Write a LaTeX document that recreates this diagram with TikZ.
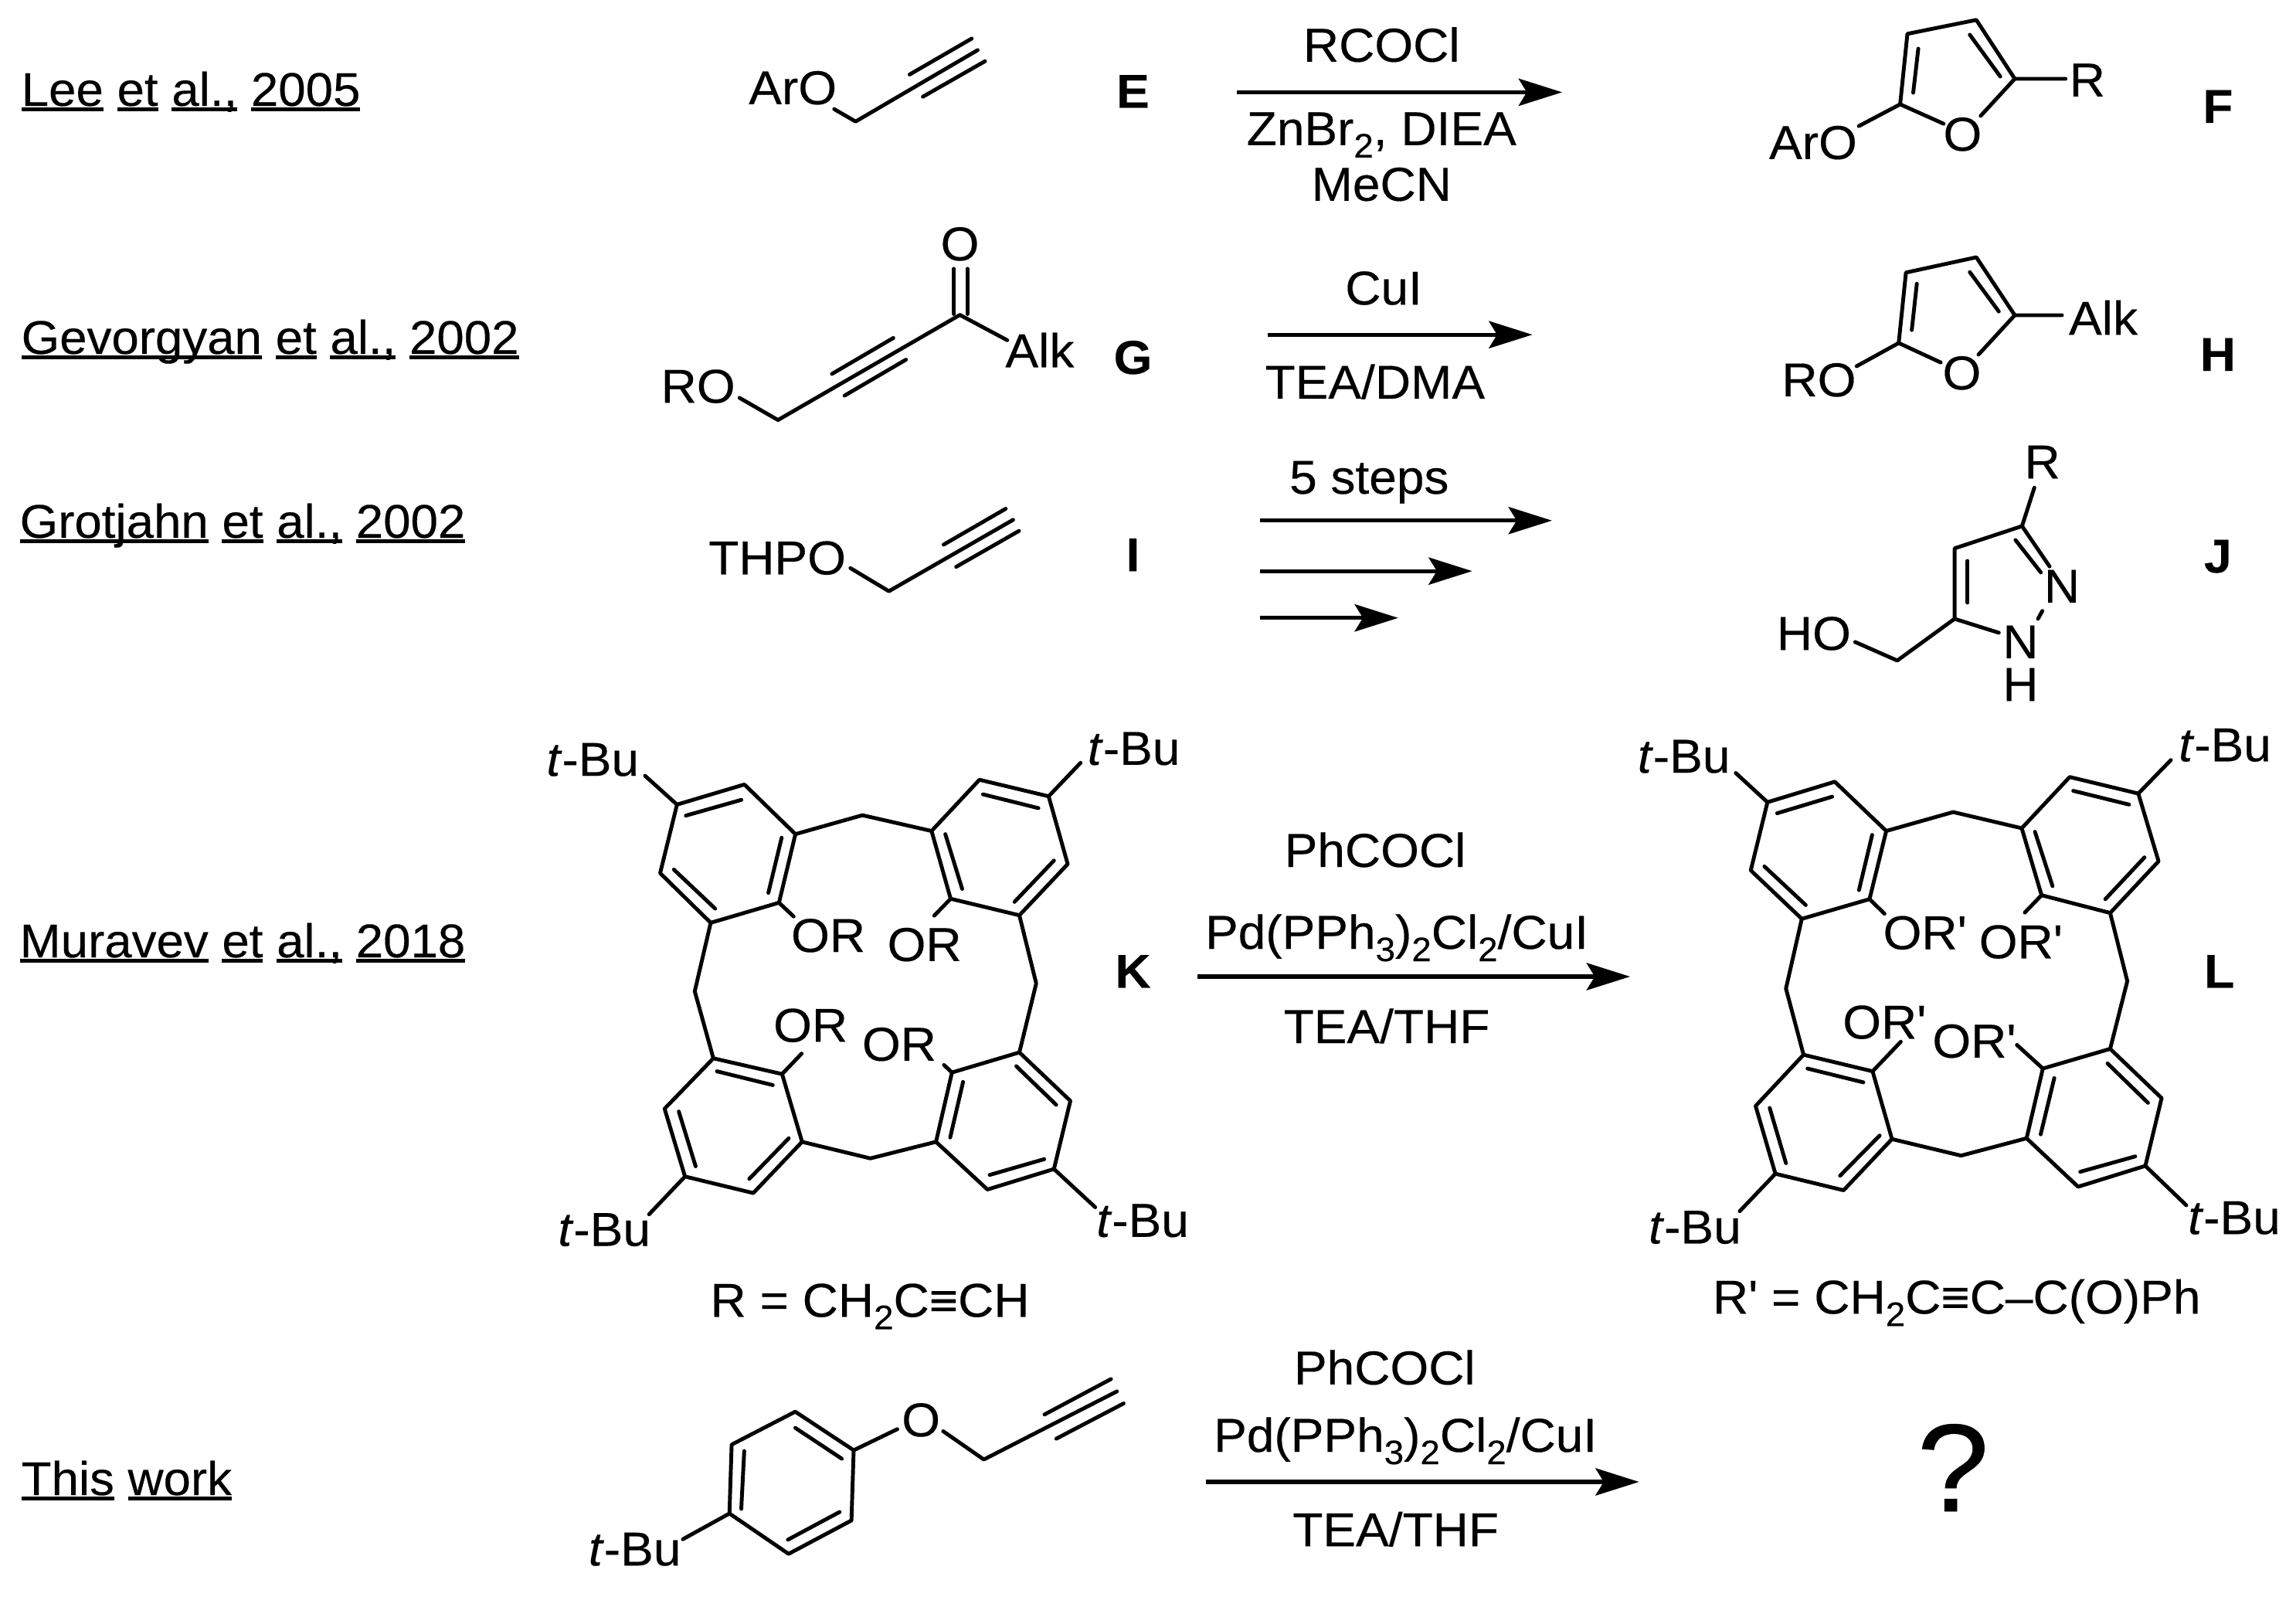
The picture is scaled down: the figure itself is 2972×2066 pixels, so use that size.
\documentclass[tikz,border=0pt]{standalone}
\usepackage{fontspec}
\setmainfont[Ligatures=TeXOff,FakeStretch=1.04,FakeBold=0.3]{Liberation Sans}
\usetikzlibrary{arrows.meta}
\newcommand{\refword}[1]{\setbox0\hbox{#1}\rlap{\rule[-0.11em]{\wd0}{0.07em}}\box0\relax}
\newcommand{\sbs}[1]{\raisebox{-0.26em}{\fontsize{12.5pt}{14pt}\selectfont #1}}
\newcommand{\tbu}{\textit{t}-Bu}
\tikzset{
  bond/.style={line width=1.4pt,line cap=round,line join=round,black},
  rxn/.style={line width=1.5pt,-{Stealth[length=16pt,width=10pt,inset=3pt]}},
  lbl/.style={anchor=base,inner sep=0pt,font=\fontsize{17.5pt}{21pt}\selectfont},
  cmpd/.style={anchor=base,inner sep=0pt,font=\fontsize{17.5pt}{21pt}\selectfont\bfseries},
  refl/.style={anchor=base west,inner sep=0pt,font=\fontsize{17.4pt}{21pt}\selectfont},
}
\begin{document}
\begin{tikzpicture}[x=0.01cm,y=-0.01cm]
\useasboundingbox (0,0) rectangle (2972,2066);
% reference labels
\node[refl] (lee) at (27,137) {\refword{Lee} \refword{et} \refword{al.,} \refword{2005}};
\node[refl] (gev) at (27,458) {\refword{Gevorgyan} \refword{et} \refword{al.,} \refword{2002}};
\node[refl] (gro) at (25,696) {\refword{Grotjahn} \refword{et} \refword{al.,} \refword{2002}};
\node[refl] (mur) at (25,1239) {\refword{Muravev} \refword{et} \refword{al.,} \refword{2018}};
\node[refl] (thi) at (27,1935) {\refword{This} \refword{work}};

% left column, top three rows
\begin{scope}[x=0.009567cm,y=-0.00574cm]
\node[lbl] (aro1) at (1072,235) {ArO};
\draw[bond] (1128,246)--(1157,274)--(1322,113);
\draw[bond] (1230,168)--(1314,87) (1248,218)--(1332,138);
\node[cmpd] (E) at (1532,243) {E};
\node[lbl] (ro1) at (944,908) {RO};
\draw[bond] (1000,897)--(1052,947)--(1298,710)--(1362,767);
\draw[bond] (1125,843)--(1208,762) (1142,892)--(1225,811);
\draw[bond] (1290,708)--(1290,606) (1308,708)--(1308,606);
\node[lbl] (oG) at (1298,587) {O};
\node[lbl] (alk1) at (1406,828) {Alk};
\node[cmpd] (G) at (1532,843) {G};
\node[lbl] (thpo) at (1051,1295) {THPO};
\draw[bond] (1150,1281)--(1202,1333)--(1370,1172);
\draw[bond] (1276,1228)--(1360,1147) (1293,1278)--(1378,1197);
\node[cmpd] (I) at (1532,1288) {I};
\end{scope}

% right part, top three rows
\begin{scope}[shift={(1500,0)},x=0.009388cm,y=-0.005995cm]
\coordinate (a1s) at (108,199); \coordinate (a1e) at (556,199);
\draw[rxn] (a1s)--(a1e);
\node[lbl] (rcocl) at (307,133) {RCOCl};
\node[lbl] (znbr) at (307,313) {ZnBr\sbs{2}, DIEA};
\node[lbl] (mecn) at (307,433) {MeCN};
\draw[bond] (1250,170)--(1180,170)--(1127,43)--(1032,73)--(1022,225)--(1082,267);
\draw[bond] (1180,170)--(1133,250) (1022,225)--(965,272);
\draw[bond] (1047,105)--(1040,200) (1118,75)--(1160,165);
\node[lbl] (rF) at (1280,208) {R};
\node[lbl] (oF) at (1108,325) {O};
\node[lbl] (aroF) at (902,343) {ArO};
\node[cmpd] (F) at (1460,265) {F};
\coordinate (a2s) at (150,722); \coordinate (a2e) at (515,722);
\draw[rxn] (a2s)--(a2e);
\node[lbl] (cui) at (310,657) {CuI};
\node[lbl] (teadma) at (298,860) {TEA/DMA};
\draw[bond] (1245,680)--(1180,680)--(1127,555)--(1030,588)--(1020,740)--(1078,782);
\draw[bond] (1180,680)--(1130,765) (1020,740)--(962,790);
\draw[bond] (1045,612)--(1038,712) (1118,587)--(1158,672);
\node[lbl] (alkH) at (1302,722) {Alk};
\node[lbl] (oH) at (1107,840) {O};
\node[lbl] (roH) at (910,855) {RO};
\node[cmpd] (H) at (1460,800) {H};
\node[lbl] (five) at (290,1065) {5 steps};
\coordinate (a3s) at (140,1123); \coordinate (a3e) at (542,1123);
\coordinate (a4s) at (140,1232); \coordinate (a4e) at (432,1232);
\coordinate (a5s) at (140,1333); \coordinate (a5e) at (330,1333);
\draw[rxn] (a3s)--(a3e);
\draw[rxn] (a4s)--(a4e);
\draw[rxn] (a5s)--(a5e);
\draw[bond] (1207,1052)--(1190,1135)--(1097,1183)--(1097,1335)--(1158,1365);
\draw[bond] (1190,1135)--(1228,1222) (1181,1165)--(1216,1235);
\draw[bond] (1115,1210)--(1115,1300);
\draw[bond] (1218,1318)--(1212,1335);
\draw[bond] (1097,1335)--(1018,1425)--(960,1385);
\node[lbl] (rJ) at (1218,1032) {R};
\node[lbl] (n2) at (1245,1300) {N};
\node[lbl] (n1) at (1188,1420) {N};
\node[lbl] (hJ) at (1188,1512) {H};
\node[lbl] (ho) at (903,1402) {HO};
\node[cmpd] (J) at (1460,1235) {J};
\end{scope}

% macrocycle K
\begin{scope}[shift={(680,920)},x=0.00574cm,y=-0.005102cm]
\draw[bond] (342,238)--(494,187)--(609,313)--(572,487)--(418,538)--(304,412)--cycle;
\draw[bond] (362,266)--(487,226) (578,322)--(548,462) (428,502)--(335,403);
\draw[bond] (342,238)--(270,165) (572,487)--(605,522);
\draw[bond] (609,313)--(760,265)--(916,305);
\draw[bond] (916,305)--(1024,175)--(1180,217)--(1223,389)--(1114,519)--(959,477)--cycle;
\draw[bond] (1032,212)--(1157,247) (1192,380)--(1103,485) (985,452)--(947,313);
\draw[bond] (1180,217)--(1252,132) (959,477)--(922,520);
\draw[bond] (418,538)--(382,712)--(424,882);
\draw[bond] (1114,519)--(1152,692)--(1114,867);
\draw[bond] (424,882)--(579,922)--(624,1094)--(514,1224)--(360,1182)--(314,1010)--cycle;
\draw[bond] (432,915)--(558,950) (594,1085)--(505,1188) (384,1156)--(346,1017);
\draw[bond] (579,922)--(623,870) (360,1182)--(279,1278);
\draw[bond] (624,1094)--(778,1136)--(926,1094);
\draw[bond] (926,1094)--(962,918)--(1114,867)--(1229,990)--(1192,1163)--(1042,1215)--cycle;
\draw[bond] (987,942)--(958,1083) (1107,902)--(1197,1000) (1170,1138)--(1047,1178);
\draw[bond] (962,918)--(944,899) (1192,1163)--(1285,1260);
\node[lbl] (k1) at (152,165) {\tbu};
\node[lbl] (k2) at (1372,137) {\tbu};
\node[lbl] (k3) at (178,1358) {\tbu};
\node[lbl] (k4) at (1392,1335) {\tbu};
\node[lbl] (k5) at (683,612) {OR};
\node[lbl] (k6) at (900,635) {OR};
\node[lbl] (k7) at (643,840) {OR};
\node[lbl] (k8) at (843,888) {OR};
\node[cmpd] (K) at (1370,703) {K};
\node[lbl] (kr) at (777,1538) {R = CH\sbs{2}C≡CH};
\end{scope}

% macrocycle L
\begin{scope}[shift={(2080,920)},x=0.005689cm,y=-0.005102cm]
\draw[bond] (365,232)--(518,180)--(635,305)--(597,478)--(443,528)--(327,405)--cycle;
\draw[bond] (387,260)--(512,218) (603,315)--(573,455) (452,493)--(358,395);
\draw[bond] (365,232)--(293,158) (597,478)--(631,515);
\draw[bond] (635,305)--(787,257)--(943,298);
\draw[bond] (943,298)--(1052,168)--(1208,210)--(1254,382)--(1144,513)--(988,468)--cycle;
\draw[bond] (1060,203)--(1187,238) (1222,372)--(1133,478) (1013,445)--(973,307);
\draw[bond] (1208,210)--(1282,125) (988,468)--(950,512);
\draw[bond] (443,528)--(407,705)--(447,873);
\draw[bond] (1144,513)--(1183,686)--(1144,858);
\draw[bond] (447,873)--(604,915)--(648,1087)--(538,1217)--(383,1175)--(338,1003)--cycle;
\draw[bond] (456,908)--(583,943) (620,1078)--(530,1180) (407,1148)--(370,1008);
\draw[bond] (604,915)--(668,840) (383,1175)--(302,1270);
\draw[bond] (648,1087)--(805,1129)--(954,1085);
\draw[bond] (954,1085)--(991,908)--(1144,858)--(1261,983)--(1224,1155)--(1071,1208)--cycle;
\draw[bond] (1017,932)--(986,1075) (1138,895)--(1230,995) (1201,1131)--(1076,1170);
\draw[bond] (991,908)--(932,848) (1224,1155)--(1317,1255);
\node[lbl] (l1) at (175,157) {\tbu};
\node[lbl] (l2) at (1405,128) {\tbu};
\node[lbl] (l3) at (200,1352) {\tbu};
\node[lbl] (l4) at (1426,1328) {\tbu};
\node[lbl] (l5) at (723,605) {OR'};
\node[lbl] (l6) at (941,628) {OR'};
\node[lbl] (l7) at (631,832) {OR'};
\node[lbl] (l8) at (835,880) {OR'};
\node[cmpd] (L) at (1392,703) {L};
\node[lbl] (lr) at (795,1530) {R' = CH\sbs{2}C≡C–C(O)Ph};
\end{scope}

% K to L reaction
\coordinate (a6s) at (1550,1264); \coordinate (a6e) at (2110,1264);
\draw[rxn] (a6s)--(a6e);
\node[lbl] (ph1) at (1780,1122) {PhCOCl};
\node[lbl] (pd1) at (1808,1228) {Pd(PPh\sbs{3})\sbs{2}Cl\sbs{2}/CuI};
\node[lbl] (tea1) at (1795,1350) {TEA/THF};

% this work
\begin{scope}[shift={(680,1700)},x=0.009567cm,y=-0.003333cm]
\draw[bond] (365,382)--(444,532)--(441,805)--(356,935)--(276,778)--(279,510)--cycle;
\draw[bond] (365,445)--(428,565) (296,535)--(292,760) (425,772)--(355,880);
\draw[bond] (444,532)--(503,450) (565,458)--(620,568)--(800,303);
\draw[bond] (702,393)--(792,255) (718,487)--(809,350);
\draw[bond] (276,778)--(213,878);
\node[lbl] (oT) at (535,478) {O};
\node[lbl] (tT) at (148,980) {\tbu};
\node[lbl] (ph2) at (1162,276) {PhCOCl};
\node[lbl] (pd2) at (1190,538) {Pd(PPh\sbs{3})\sbs{2}Cl\sbs{2}/CuI};
\node[lbl] (tea2) at (1177,905) {TEA/THF};
\coordinate (a7s) at (920,655); \coordinate (a7e) at (1506,655);
\draw[rxn] (a7s)--(a7e);
\end{scope}
\node[anchor=base,inner sep=0pt,font=\fontsize{46pt}{50pt}\selectfont] (q) at (2528,1956) {?};
\end{tikzpicture}
\end{document}
